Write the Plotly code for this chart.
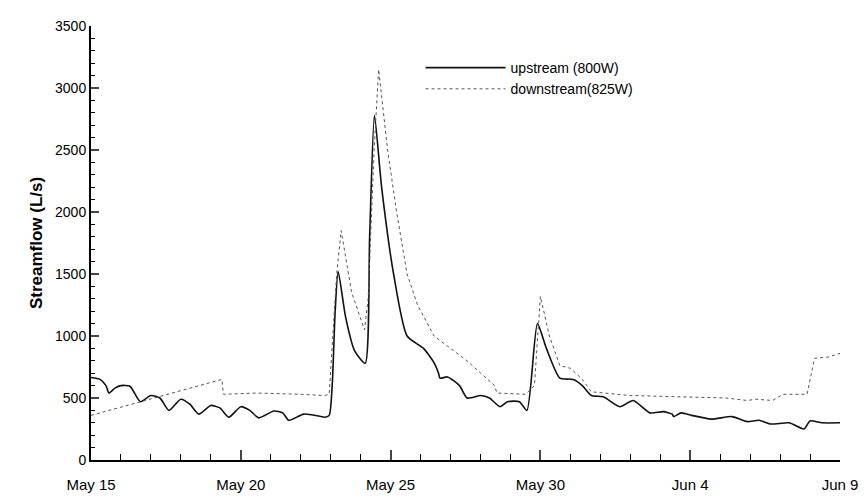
import plotly.graph_objects as go

# days after May 15
up_day = [0, 0.3, 0.5, 0.6, 0.8, 1.0, 1.3, 1.65, 2.0, 2.3, 2.6, 3.0, 3.3, 3.6, 4.0, 4.3, 4.6, 5.0, 5.3, 5.6, 6.1, 6.4, 6.6,
          7.1, 7.6, 7.8, 7.95, 8.05, 8.15, 8.25, 8.5, 8.8, 9.15, 9.3, 9.46, 9.7, 10.1, 10.55, 11.1, 11.46, 11.6, 11.65,
          11.9, 12.3, 12.55, 13.0, 13.3, 13.65, 13.9, 14.3, 14.55, 14.9, 15.2, 15.65, 16.1, 16.4, 16.7, 17.1, 17.65,
          18.1, 18.65, 19.1, 19.4, 19.45, 19.7, 20.05, 20.7, 21.4, 21.9, 22.3, 22.7, 23.3, 23.8, 24.0, 24.4, 25]
upstream = [665, 650, 600, 540, 580, 600, 595, 470, 520, 500, 400, 490, 450, 370, 440, 420, 345, 430, 400, 340, 395, 380, 320,
            370, 355, 345, 360, 600, 1200, 1520, 1150, 880, 780, 1800, 2780, 2200, 1500, 1000, 900, 780, 700, 660,
            670, 600, 500, 520, 500, 430, 470, 470, 400, 1100, 900, 660, 650, 600, 520, 510, 430,
            480, 380, 390, 370, 350, 380, 360, 330, 350, 310, 320, 290, 300, 250, 315, 300, 300]

dn_day = [0, 4.37, 4.42, 5.5, 7.0, 7.8, 7.95, 8.2, 8.35, 8.7, 9.13, 9.25, 9.45, 9.6, 9.9, 10.2, 10.55, 10.9, 11.45,
          12.55, 13.47, 13.55, 14.5, 14.8, 15.0, 15.3, 15.65, 16.0, 16.4, 16.7, 18.0, 19.9, 21.2, 21.9, 22.2, 22.75,
          23.1, 23.9, 24.15, 24.6, 25]
downstream = [360, 650, 530, 540, 530, 520, 530, 1500, 1850, 1350, 1050, 1300, 2500, 3150, 2500, 2000, 1500, 1250, 1000,
              800, 600, 540, 530, 600, 1320, 1000, 760, 740, 650, 550, 520, 510, 500, 480, 490, 480,
              530, 530, 820, 830, 860]

tick_days = [0, 5, 10, 15, 20, 25]
tick_text = ["May 15", "May 20", "May 25", "May 30", "Jun 4", "Jun 9"]

fig = go.Figure()
fig.add_trace(go.Scatter(x=up_day, y=upstream, mode="lines", name="upstream (800W)",
                         line=dict(color="#111", width=1.6, shape="spline", smoothing=0.6)))
fig.add_trace(go.Scatter(x=dn_day, y=downstream, mode="lines", name="downstream(825W)",
                         line=dict(color="#555", width=1, dash="dot")))

fig.update_layout(
    width=852, height=491,
    margin=dict(l=83, r=20, t=18, b=39, autoexpand=False),
    paper_bgcolor="white", plot_bgcolor="white",
    font=dict(family="Liberation Sans, Arial", size=14, color="black"),
    legend=dict(x=0.44, y=0.94, xanchor="left", yanchor="top", bgcolor="rgba(0,0,0,0)",
                font=dict(size=14), itemwidth=80),
    showlegend=True,
)
fig.update_xaxes(range=[0, 25], tickvals=tick_days, ticktext=tick_text, ticks="inside", ticklen=10, tickwidth=2,
                 showline=True, linecolor="black", linewidth=2, showgrid=False, zeroline=False, automargin=False,
                 minor=dict(dtick=1, ticks="inside", ticklen=6, tickcolor="black", tickwidth=1),
                 tickfont=dict(size=15), ticklabeloverflow="allow", ticklabelstandoff=10)
fig.update_yaxes(range=[0, 3500], dtick=500, ticks="inside", ticklen=8, tickwidth=2,
                 showline=True, linecolor="black", linewidth=2, showgrid=False, zeroline=False, automargin=False,
                 minor=dict(dtick=100, ticks="inside", ticklen=4, tickcolor="black", tickwidth=1),
                 title=dict(text="<b>Streamflow (L/s)</b>", font=dict(size=17), standoff=8), tickfont=dict(size=14))

fig.write_html("out.html")
